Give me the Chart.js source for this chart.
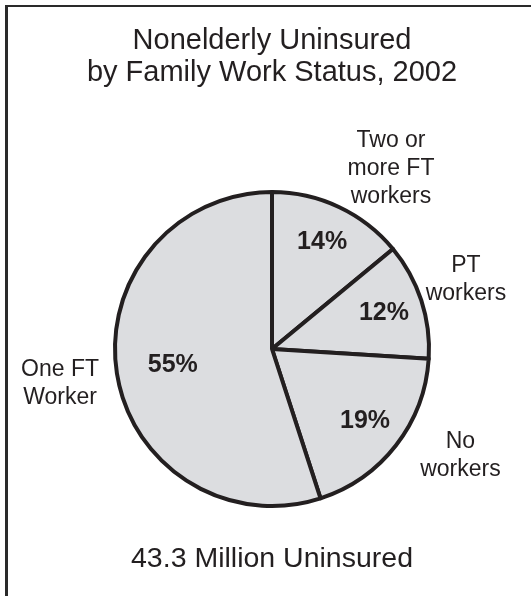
<!DOCTYPE html>
<html>
<head>
<meta charset="utf-8">
<title>Nonelderly Uninsured by Family Work Status, 2002</title>
<script src="https://cdn.jsdelivr.net/npm/chart.js@4"></script>
<style>
  html, body { margin: 0; padding: 0; background: #fff; }
  #wrap { position: relative; width: 531px; height: 596px; overflow: hidden; }
  #frame {
    position: absolute; left: 5px; top: 5px; width: 540px; height: 600px;
    border-top: 2px solid #2a2a2a; border-left: 3px solid #2a2a2a;
  }
  #my-chart { position: absolute; left: 0; top: 0; }
</style>
</head>
<body>
<div id="wrap">
  <div id="frame"></div>
  <canvas id="my-chart" width="531" height="596"></canvas>
</div>
<script>
'use strict';

// **** Data ****

let categories = ['Two or more FT workers', 'PT workers', 'No workers', 'One FT Worker'];
let labelLines = [['Two or', 'more FT', 'workers'], ['PT', 'workers'], ['No', 'workers'], ['One FT', 'Worker']];
let shares = [14, 12, 19, 55];

let titleLines = ['Nonelderly Uninsured', 'by Family Work Status, 2002'];
let footText = '43.3 Million Uninsured';

// **** Styles ****

let ink = '#231f20';
let sliceFill = '#dcdde0';
let fontFamily = '"Liberation Sans", Arial, Helvetica, sans-serif';

// where the % sits inside each slice (fraction of radius)
let pctRadius = [0.75, 0.75, 0.75, 0.64];
// center of each outside label block, relative to pie center (in radii)
let outerOffsets = [[0.758, -1.146], [1.235, -0.44], [1.2, 0.68], [-1.35, 0.223]];

// **** Label plugin ****

let sliceLabels = {
  id: 'sliceLabels',
  afterDatasetsDraw(chart) {
    let ctx = chart.ctx;
    let arcs = chart.getDatasetMeta(0).data;
    ctx.save();
    ctx.fillStyle = ink;
    ctx.textAlign = 'center';
    ctx.textBaseline = 'middle';

    for (let i = 0; i < arcs.length; i++) {
      let arc = arcs[i];
      let mid = (arc.startAngle + arc.endAngle) / 2;
      let r = arc.outerRadius;

      ctx.font = 'bold 25px ' + fontFamily;
      ctx.fillText(shares[i] + '%', arc.x + Math.cos(mid) * r * pctRadius[i], arc.y + Math.sin(mid) * r * pctRadius[i]);

      ctx.font = '23px ' + fontFamily;
      let lines = labelLines[i];
      let lh = 28;
      let cx = arc.x + outerOffsets[i][0] * r;
      let cy = arc.y + outerOffsets[i][1] * r - (lines.length - 1) * lh / 2;
      for (let j = 0; j < lines.length; j++) {
        ctx.fillText(lines[j], cx, cy + j * lh);
      }
    }
    ctx.restore();
  }
};

// **** Chart ****

let ctx = document.getElementById('my-chart').getContext('2d');

new Chart(ctx, {
  type: 'pie',
  data: {
    labels: categories,
    datasets: [{
      data: shares,
      backgroundColor: sliceFill,
      borderColor: ink,
      borderWidth: 4,
      borderJoinStyle: 'round'
    }]
  },
  options: {
    responsive: false,
    animation: false,
    layout: { padding: { left: 13, right: 0, top: 0, bottom: 0 } },
    plugins: {
      legend: { display: false },
      tooltip: { enabled: false },
      title: {
        display: true,
        text: titleLines,
        color: ink,
        font: { family: fontFamily, size: 29, weight: 'normal', lineHeight: 32 / 29 },
        padding: { top: 25, bottom: 101 }
      },
      subtitle: {
        display: true,
        position: 'bottom',
        text: footText,
        color: ink,
        font: { family: fontFamily, size: 28.5, weight: 'normal', lineHeight: 34 / 28.5 },
        padding: { top: 34, bottom: 20 }
      }
    }
  },
  plugins: [sliceLabels]
});
</script>
</body>
</html>
